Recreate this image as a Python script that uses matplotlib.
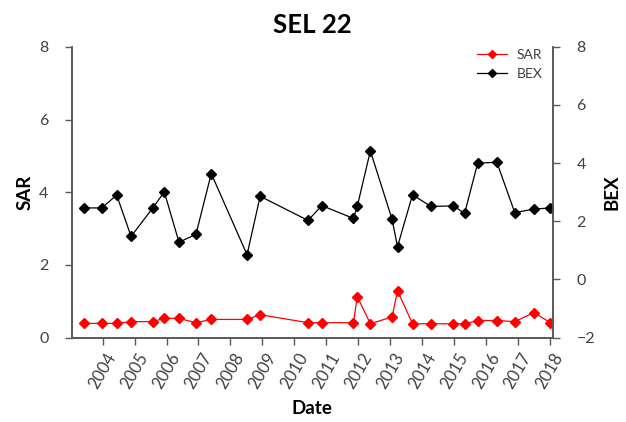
import matplotlib
matplotlib.use("Agg")
import matplotlib.pyplot as plt

plt.rcParams['font.family'] = ['Lato', 'DejaVu Sans']

# decimal-year dates
dates = [2003.41, 2003.97, 2004.44, 2004.89, 2005.57, 2005.93, 2006.39, 2006.92,
         2007.40, 2008.52, 2008.93, 2010.43, 2010.86, 2011.85, 2011.97, 2012.38,
         2013.06, 2013.23, 2013.70, 2014.28, 2014.98, 2015.33, 2015.74, 2016.34,
         2016.90, 2017.51, 2018.01]
sar = [0.39, 0.39, 0.39, 0.44, 0.44, 0.53, 0.53, 0.41, 0.50, 0.50, 0.63, 0.41,
       0.41, 0.41, 1.13, 0.38, 0.57, 1.29, 0.38, 0.38, 0.38, 0.38, 0.47, 0.47,
       0.44, 0.69, 0.41]
bex = [2.46, 2.46, 2.90, 1.48, 2.46, 3.01, 1.28, 1.55, 3.64, 0.85, 2.86, 2.03,
       2.54, 2.10, 2.51, 4.42, 2.07, 1.13, 2.91, 2.51, 2.53, 2.27, 4.00, 4.03,
       2.30, 2.42, 2.46]
year_ticks = list(range(2004, 2019))
title = "SEL 22"

fig = plt.figure(figsize=(6.26, 4.22), dpi=100)
ax = fig.add_axes([0.115, 0.2, 0.768, 0.689])
ax2 = ax.twinx()

spine_col = '#595959'
text_col = '#404040'

l1, = ax.plot(dates, sar, color='#ff0000', lw=0.9, marker='D', ms=5,
              markeredgecolor='#ff0000', label='SAR')
l2, = ax2.plot(dates, bex, color='black', lw=0.9, marker='D', ms=5,
               label='BEX')

ax.set_xlim(2003.04, 2018.09)
ax.set_ylim(0, 8)
ax2.set_ylim(-2, 8)
ax.set_yticks([0, 2, 4, 6, 8])
ax2.set_yticks([-2, 0, 2, 4, 6, 8])
ax.set_xticks(year_ticks)
ax.set_xticklabels([str(y) for y in year_ticks], rotation=60, ha='center')

for a in (ax, ax2):
    a.spines['top'].set_visible(False)
    for s in ('left', 'right', 'bottom'):
        a.spines[s].set_color(spine_col)
        a.spines[s].set_linewidth(1.2)
    a.tick_params(colors=spine_col, labelcolor=text_col, labelsize=11.5,
                  length=5, width=1)
ax.tick_params(axis='y', pad=12)
ax2.tick_params(axis='y', pad=12)
ax.tick_params(axis='x', labelsize=12, pad=4)

ax.set_title(title, fontsize=18.5, fontweight='bold', pad=10)
ax.set_ylabel('SAR', fontsize=13.5, fontweight='bold', labelpad=4)
ax2.set_ylabel('BEX', fontsize=13.5, fontweight='bold', labelpad=6)
ax.set_xlabel('Date', fontsize=13.5, fontweight='bold', labelpad=6)

leg = ax2.legend([l1, l2], ['SAR', 'BEX'], loc='upper right',
                 bbox_to_anchor=(1.005, 1.035), frameon=False, fontsize=10,
                 handlelength=2.2, handletextpad=0.7, labelspacing=0.5,
                 markerscale=0.75)
for t in leg.get_texts():
    t.set_color(text_col)

fig.savefig('out.png', dpi=100)
